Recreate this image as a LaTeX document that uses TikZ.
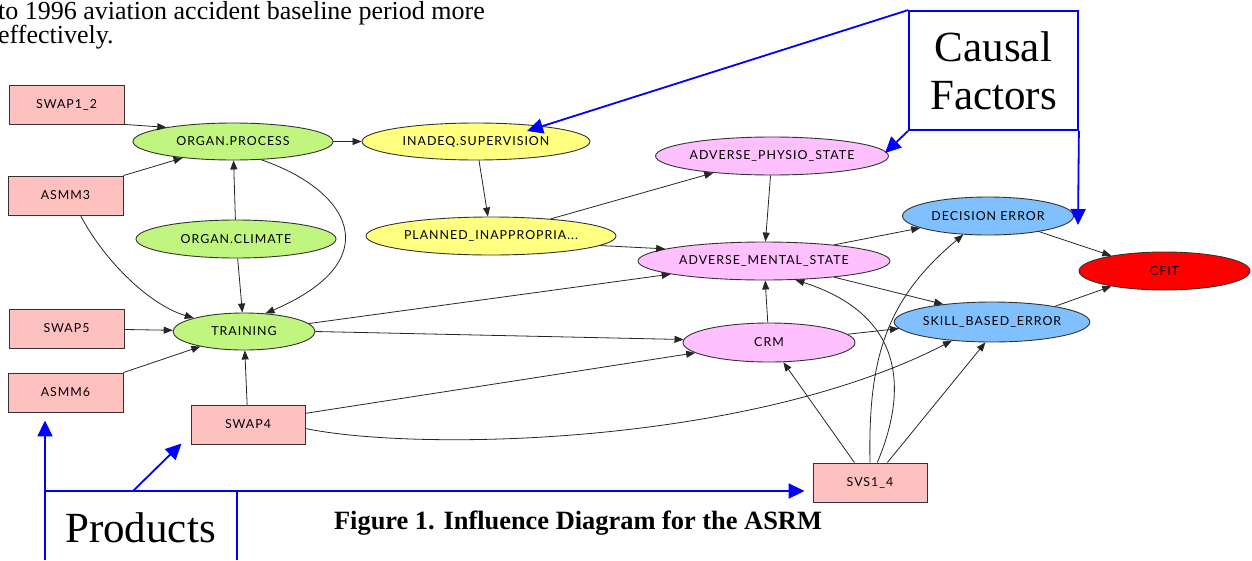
\documentclass[tikz,border=0pt]{standalone}
\usepackage{fontspec}
\setmainfont{Liberation Serif}
\newfontfamily\nodefont[LetterSpace=8]{Lato}
\usetikzlibrary{shapes.geometric,arrows.meta,calc}
\definecolor{boxpink}{RGB}{255,192,192}
\definecolor{ovgreen}{RGB}{192,246,128}
\definecolor{ovyellow}{RGB}{255,255,128}
\definecolor{ovviolet}{RGB}{255,192,255}
\definecolor{ovblue}{RGB}{128,192,255}
\definecolor{ovred}{RGB}{255,0,0}
\definecolor{callblue}{RGB}{0,0,255}
\tikzset{
  lbl/.style={font=\nodefont\fontsize{12.4}{13}\selectfont, text=black},
  prodbox/.style={lbl, rectangle, draw=black!80, line width=0.9pt, fill=boxpink, minimum width=115pt, minimum height=39pt, inner sep=0pt},
  oval/.style={lbl, ellipse, draw=black!80, line width=0.9pt, inner sep=0pt},
  edge/.style={draw=black!85, line width=0.8pt, -{Triangle[length=9pt,width=7pt]}},
  callout/.style={draw=callblue, line width=1.8pt},
  callarrow/.style={callout, -{Triangle[length=16pt,width=15pt]}},
}
\begin{document}
\begin{tikzpicture}[x=1pt,y=-1pt]
\useasboundingbox (0,0) rectangle (1252,560);

% paper text
\node[anchor=base west, inner sep=0pt, font=\fontsize{26}{30}\selectfont] (txtA) at (-2,19) {to 1996 aviation accident baseline period more};
\node[anchor=base west, inner sep=0pt, font=\fontsize{26}{30}\selectfont] (txtB) at (-2,43) {effectively.};
\node[anchor=base, inner sep=0pt, font=\fontsize{26.4}{30}\selectfont\bfseries] (caption) at (578,529) {Figure 1. Influence Diagram for the ASRM};

% product (rectangle) nodes
\node[prodbox] (swap12) at (66.5,104.5) {SWAP1\_2};
\node[prodbox] (asmm3) at (65.5,195.5) {ASMM3};
\node[prodbox] (swap5) at (66.5,328.5) {SWAP5};
\node[prodbox] (asmm6) at (65.5,392.5) {ASMM6};
\node[prodbox, minimum width=114pt] (swap4) at (248,424.5) {SWAP4};
\node[prodbox, minimum width=114pt] (svs) at (870,482.5) {SVS1\_4};

% ellipses
\node[oval, fill=ovgreen, minimum width=200pt, minimum height=37pt] (organp) at (233,141.5) {ORGAN.PROCESS};
\node[oval, fill=ovgreen, minimum width=200pt, minimum height=38pt] (organc) at (236,239) {ORGAN.CLIMATE};
\node[oval, fill=ovgreen, minimum width=142pt, minimum height=37pt] (training) at (244,331.5) {TRAINING};
\node[oval, fill=ovyellow, minimum width=228pt, minimum height=37pt] (inadeq) at (476,141.5) {INADEQ.SUPERVISION};
\node[oval, fill=ovyellow, minimum width=250pt, minimum height=38pt] (planned) at (491,236) {PLANNED\_INAPPROPRIA...};
\node[oval, fill=ovviolet, minimum width=230pt, minimum height=38pt] (physio) at (772,156) {ADVERSE\_PHYSIO\_STATE};
\node[oval, fill=ovviolet, minimum width=252pt, minimum height=38pt] (mental) at (764,261) {ADVERSE\_MENTAL\_STATE};
\node[oval, fill=ovviolet, minimum width=172pt, minimum height=39pt] (crm) at (769,342.5) {CRM};
\node[oval, fill=ovblue, minimum width=171pt, minimum height=38pt] (decision) at (988,216) {DECISION ERROR};
\node[oval, fill=ovblue, minimum width=172pt, minimum height=40pt] (skill) at (992,322) {SKILL\_BASED\_ERROR};
\node[oval, fill=ovred, minimum width=171pt, minimum height=38pt] (cfit) at (1164.5,271) {CFIT};

% edges
\draw[edge] (swap12.south east) -- (organp.168);
\draw[edge] (asmm3.north east) -- (organp.198);
\draw[edge] (organc) -- (organp);
\draw[edge] (organp) -- (inadeq);
\draw[edge] (organp.-33) .. controls (350,190) and (390,260) .. (training.40);
\draw[edge] (asmm3.-53) .. controls (105,262) and (150,305) .. (training.165);
\draw[edge] (organc) -- (training);
\draw[edge] (swap5) -- (training);
\draw[edge] (asmm6.north east) -- (training.199);
\draw[edge] (swap4) -- (training);
\draw[edge] (inadeq) -- (planned);
\draw[edge] (planned.16) -- (physio.196);
\draw[edge] (planned.-5) -- (mental.173);
\draw[edge] (physio) -- (mental);
\draw[edge] (training.7) -- (mental.188);
\draw[edge] (training.east) -- (crm.178);
\draw[edge] (swap4.11) -- (crm.188);
\draw[edge] (swap4.-4) .. controls (420,452) and (750,445) .. (skill.205);
\draw[edge] (crm) -- (mental);
\draw[edge] (crm.6) -- (skill.184);
\draw[edge] (mental.13) -- (decision.190);
\draw[edge] (mental.-13) -- (skill.160);
\draw[edge] (decision.-17) -- (cfit.164);
\draw[edge] (skill.14) -- (cfit.196);
\draw[edge] (svs.128) -- (crm.-54);
\draw[edge] (svs.70) .. controls (908,390) and (905,315) .. (mental.-31);
\draw[edge] (svs.north) .. controls (868,360) and (885,300) .. (decision.217);
\draw[edge] (svs.49) -- (skill.252);

% callout: Causal Factors
\node[callout, rectangle, minimum width=169pt, minimum height=119pt, inner sep=0pt, align=center,
      font=\fontsize{43}{48}\selectfont] (causal) at (993.5,70.5) {Causal\\Factors};
\coordinate (cfInadeq) at (527,131);
\coordinate (cfPhysio) at (885,153);
\coordinate (cfDecision) at (1078,225);
\draw[callarrow] (causal.north west) -- (cfInadeq);
\draw[callarrow] (causal.south west) -- (cfPhysio);
\draw[callarrow] (causal.south east) -- (cfDecision);

% callout: Products
\node[anchor=base, inner sep=0pt, font=\fontsize{43}{48}\selectfont] (products) at (140.5,542) {Products};
\coordinate (pTL) at (45,491);
\coordinate (pBL) at (45,560);
\coordinate (pTR) at (237,491);
\coordinate (pBR) at (237,560);
\coordinate (pDiag) at (133,491);
\coordinate (pSwap4) at ($(swap4.south west)+(-9,-1)$);
\draw[callarrow, shorten >=8pt] (pBL) -- (pBL |- asmm6.south);
\draw[callarrow, shorten >=8pt] (pTL) -- (pTL -| svs.west);
\draw[callout] (pTR) -- (pBR);
\draw[callarrow] (pDiag) -- (pSwap4);
\end{tikzpicture}
\end{document}
